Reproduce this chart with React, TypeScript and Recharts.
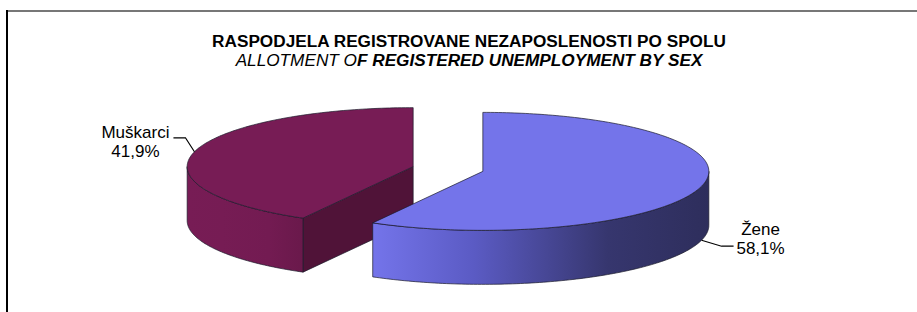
import React from "react";
import { PieChart, Pie } from "recharts";

// Unemployment split by sex (%)
const categories = ["Muškarci", "Žene"];
const shares = [41.9, 58.1];
const sliceColors = ["#771c55", "#7474ea"];
const sideDark = ["#6a194b", "#2e2e5c"];
const cutColors = ["#501338", "#3a3a80"];

const data = categories.map((name, i) => ({
  name,
  value: shares[i],
  fill: sliceColors[i],
}));

const W = 917;
const H = 312;
const TILT = 0.261; // vertical squash of the pie ellipse
const DEPTH = 54;
const EXPLODE = 36;
const RAD = Math.PI / 180;
const FONT = "'Liberation Sans', Arial, sans-serif";

const exploded = (cx: number, cy: number, mid: number) => ({
  ox: cx + EXPLODE * Math.cos(mid * RAD),
  oy: cy - EXPLODE * Math.sin(mid * RAD) * TILT,
});

// draws one slice as a tilted 3D wedge
function Slice3D(props: any) {
  const { cx, cy, outerRadius: r, startAngle, endAngle, midAngle, index } = props;
  const { ox, oy } = exploded(cx, cy, midAngle);
  const a0 = Math.min(startAngle, endAngle);
  const a1 = Math.max(startAngle, endAngle);
  const pt = (a: number, dz = 0): [number, number] => [
    ox + r * Math.cos(a * RAD),
    oy - r * Math.sin(a * RAD) * TILT + dz,
  ];
  const arc = (from: number, to: number, dz = 0) => {
    const out: [number, number][] = [];
    const n = Math.max(2, Math.ceil(Math.abs(to - from)));
    for (let i = 0; i <= n; i++) out.push(pt(from + ((to - from) * i) / n, dz));
    return out;
  };
  const toPath = (pts: [number, number][]) =>
    "M" + pts.map((p) => p[0].toFixed(2) + "," + p[1].toFixed(2)).join("L") + "Z";

  const top = toPath([[ox, oy], ...arc(a0, a1)]);

  // front-facing part of the outer wall
  const sides: string[] = [];
  let sxMin = Infinity;
  let sxMax = -Infinity;
  for (let k = -1; k <= 1; k++) {
    const b0 = Math.max(a0, 180 + 360 * k);
    const b1 = Math.min(a1, 360 + 360 * k);
    if (b1 > b0) {
      const upper = arc(b0, b1);
      const lower = arc(b1, b0, DEPTH);
      upper.concat(lower).forEach((p) => {
        sxMin = Math.min(sxMin, p[0]);
        sxMax = Math.max(sxMax, p[0]);
      });
      sides.push(toPath([...upper, ...lower]));
    }
  }

  const cuts: string[] = [];
  const cutFace = (a: number) => {
    const p = pt(a);
    const q = pt(a, DEPTH);
    return toPath([[ox, oy], p, q, [ox, oy + DEPTH]]);
  };
  if (Math.cos(a0 * RAD) > 0.001) cuts.push(cutFace(a0));
  if (Math.cos(a1 * RAD) < -0.001) cuts.push(cutFace(a1));

  const gid = `side-grad-${index}`;
  const stroke = { stroke: "#1a1a2a", strokeWidth: 0.7, strokeLinejoin: "round" as const };

  return (
    <g>
      <defs>
        <linearGradient id={gid} gradientUnits="userSpaceOnUse" x1={sxMin} y1={0} x2={sxMax} y2={0}>
          <stop offset="0%" stopColor={sliceColors[index]} />
          <stop offset="30%" stopColor={index === 1 ? "#5b5bc4" : "#761c54"} />
          <stop offset="70%" stopColor={index === 1 ? "#36366e" : "#731b52"} />
          <stop offset="100%" stopColor={sideDark[index]} />
        </linearGradient>
      </defs>
      {cuts.map((d, i) => (
        <path key={"c" + i} d={d} fill={cutColors[index]} {...stroke} />
      ))}
      {sides.map((d, i) => (
        <path key={"s" + i} d={d} fill={`url(#${gid})`} {...stroke} />
      ))}
      <path d={top} fill={sliceColors[index]} {...stroke} />
    </g>
  );
}

const renderLabel = (props: any) => {
  const { cx, cy, midAngle, outerRadius: r, name, value } = props;
  const { ox, oy } = exploded(cx, cy, midAngle);
  const cos = Math.cos(midAngle * RAD);
  const sin = Math.sin(midAngle * RAD);
  const ax = ox + r * cos;
  const ay = oy - r * sin * TILT + (sin < 0 ? DEPTH : 0);
  const right = cos >= 0;
  const ex = ax + (right ? 20 : -9);
  const ey = ay + (right ? 6 : -14);
  const lx = ex + (right ? 12 : -12);
  const tx = right ? lx + 27 : lx - 38;
  const y1 = right ? ey - 11 : ey;
  const pct = value.toFixed(1).replace(".", ",") + "%";
  return (
    <g>
      <polyline points={`${ax},${ay} ${ex},${ey} ${lx},${ey}`} fill="none" stroke="#000" strokeWidth={1.2} />
      <text x={tx} y={y1} textAnchor="middle" fontFamily={FONT} fontSize={17} fill="#000">
        <tspan x={tx}>{name}</tspan>
        <tspan x={tx} dy={19}>{pct}</tspan>
      </text>
    </g>
  );
};

export default function App() {
  return (
    <div style={{ position: "relative", width: W, height: H, background: "#fff", overflow: "hidden" }}>
      <style>{"body{margin:0}"}</style>
      <div style={{ position: "absolute", left: 6, top: 10, right: -2, height: 2, background: "#777" }} />
      <div style={{ position: "absolute", left: 6, top: 10, width: 2, bottom: -2, background: "#000" }} />
      <div
        style={{
          position: "absolute",
          left: 0,
          width: 938,
          top: 32,
          textAlign: "center",
          fontFamily: FONT,
          fontSize: 17.2,
          lineHeight: "19px",
          color: "#000",
        }}
      >
        <div style={{ fontWeight: "bold" }}>RASPODJELA REGISTROVANE NEZAPOSLENOSTI PO SPOLU</div>
        <div style={{ fontStyle: "italic" }}>
          ALLOTMENT O<span style={{ fontWeight: "bold" }}>F REGISTERED UNEMPLOYMENT BY SEX</span>
        </div>
      </div>
      <PieChart
        width={W}
        height={H}
        margin={{ top: 0, right: 0, bottom: 0, left: 0 }}
        style={{ position: "absolute", left: 0, top: 0 }}
      >
        <Pie
          data={data}
          dataKey="value"
          nameKey="name"
          cx={448}
          cy={169}
          outerRadius={226}
          startAngle={90}
          endAngle={450}
          stroke="none"
          shape={Slice3D}
          label={renderLabel}
          labelLine={false}
          isAnimationActive={false}
        />
      </PieChart>
    </div>
  );
}
